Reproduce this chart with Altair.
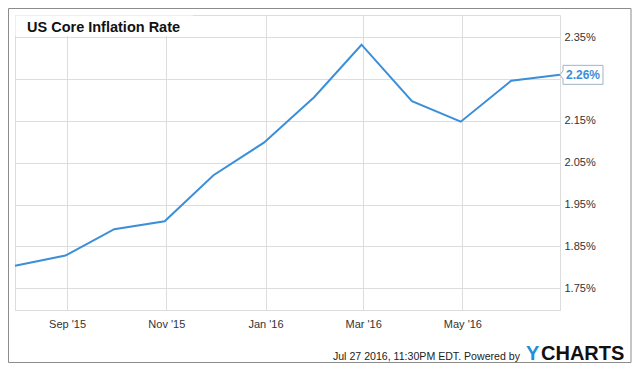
import altair as alt
import pandas as pd

dates = ["2015-07-31", "2015-08-31", "2015-09-30", "2015-10-31", "2015-11-30",
         "2015-12-31", "2016-01-31", "2016-02-29", "2016-03-31", "2016-04-30",
         "2016-05-31", "2016-06-30"]
values = [1.804, 1.828, 1.891, 1.910, 2.020, 2.098, 2.207, 2.332, 2.197, 2.148,
          2.246, 2.26]
y_ticks = [1.75, 1.85, 1.95, 2.05, 2.15, 2.25, 2.35]
title_text = "US Core Inflation Rate"
footer_text = "Jul 27 2016, 11:30PM EDT.  Powered by"

df = pd.DataFrame({"date": dates, "value": values})
last = df.tail(1)

FONT = "Liberation Sans"
BLUE = "#3b8fd9"

x_enc = alt.X(
    "date:T",
    scale=alt.Scale(type="utc",
                    domain=[alt.DateTime(year=2015, month=7, date=31, utc=True),
                            alt.DateTime(year=2016, month=6, date=30, utc=True)]),
    axis=alt.Axis(
        values=[alt.DateTime(year=2015, month=9, date=1, utc=True),
                alt.DateTime(year=2015, month=11, date=1, utc=True),
                alt.DateTime(year=2016, month=1, date=1, utc=True),
                alt.DateTime(year=2016, month=3, date=1, utc=True),
                alt.DateTime(year=2016, month=5, date=1, utc=True)],
        labelExpr="utcFormat(datum.value, \"%b '%y\")", title=None, ticks=False,
        domain=False, labelFont=FONT, labelFontSize=11, labelColor="#333333",
        labelPadding=8, grid=True, gridColor="#dddddd", labelFlush=False),
)
y_enc = alt.Y(
    "value:Q",
    scale=alt.Scale(domain=[1.698, 2.403], nice=False, zero=False),
    axis=alt.Axis(
        orient="right", values=y_ticks, labelExpr="format(datum.value, '.2f') + '%'",
        title=None, ticks=False, domain=False, labelFont=FONT, labelFontSize=11,
        labelColor="#333333", labelPadding=4, grid=True, gridColor="#dddddd"),
)

line = alt.Chart(df).mark_line(color=BLUE, strokeWidth=2).encode(x=x_enc, y=y_enc)

title_box = alt.Chart(df.head(1)).mark_rect(fill="white").encode(
    x=alt.value(0.5), x2=alt.value(178), y=alt.value(0.5), y2=alt.value(21))
title = alt.Chart(df.head(1)).mark_text(
    text=title_text, font=FONT, fontSize=14.5, fontWeight="bold", color="#111111",
    align="left", baseline="middle").encode(x=alt.value(12), y=alt.value(13))

box_path = "M0,0 L0.15,-0.2 L0.15,-0.475 L2.15,-0.475 L2.15,0.475 L0.15,0.475 L0.15,0.2 Z"
label_box = alt.Chart(last).mark_point(
    shape=box_path, size=1600, filled=True, fill="white", stroke="#9fb4c8",
    strokeWidth=1, opacity=1).encode(
    x=alt.X("date:T", scale=alt.Scale(type="utc")), y="value:Q")
label_text = alt.Chart(last).transform_calculate(
    lbl="format(datum.value, '.2f') + '%'").mark_text(
    font=FONT, fontSize=12, fontWeight="bold", color=BLUE, align="center",
    baseline="middle", dx=23).encode(
    x=alt.X("date:T", scale=alt.Scale(type="utc")), y="value:Q", text="lbl:N")

footer = alt.Chart(df.head(1)).mark_text(
    text=footer_text, font=FONT, fontSize=10.6, color="#222222", align="right",
    baseline="middle").encode(x=alt.value(505), y=alt.value(342))
brand_y = alt.Chart(df.head(1)).mark_text(
    text="Y", font=FONT, fontSize=20, fontWeight="bold", color="#1e8fd8",
    align="left", baseline="middle").encode(x=alt.value(511), y=alt.value(339))
brand_rest = alt.Chart(df.head(1)).mark_text(
    text="CHARTS", font=FONT, fontSize=20, fontWeight="bold", color="#111111",
    align="left", baseline="middle").encode(x=alt.value(526), y=alt.value(339))

border = alt.Chart(df.head(1)).mark_rect(
    fillOpacity=0, stroke="#8c8c8c", strokeWidth=1).encode(
    x=alt.value(-6.5), x2=alt.value(616), y=alt.value(-6.5), y2=alt.value(347.5))

chart = alt.layer(line, title_box, title, label_box, label_text, footer,
                  brand_y, brand_rest, border).properties(
    width=545, height=295,
    padding={"left": 7, "top": 7, "right": 72, "bottom": 54},
    autosize=alt.AutoSizeParams(type="none"),
).configure_view(fill="#f6f6f6", stroke="#b5b5b5").configure(background="white")

chart.save("out.html", embed_options={"renderer": "svg", "actions": False})
